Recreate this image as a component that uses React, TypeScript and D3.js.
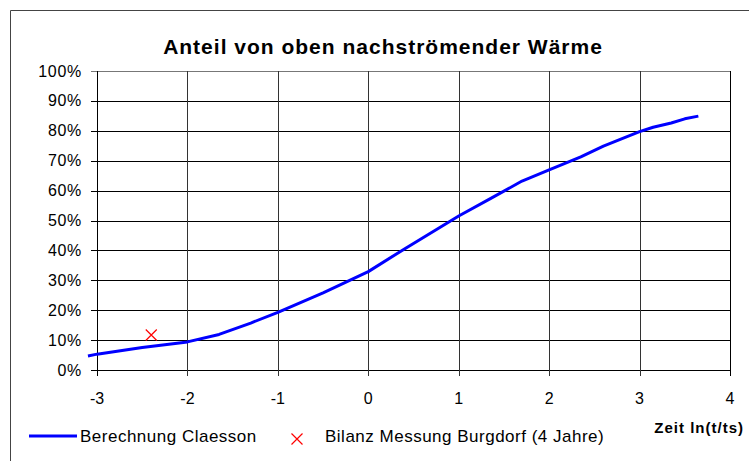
import React, { useEffect, useRef } from 'react'
import * as d3 from 'd3'

const lnTime = [-3.1, -3, -2.5, -2, -1.65, -1.3, -1, -0.5, 0, 0.4, 1, 1.35, 1.7, 2, 2.35, 2.6, 3, 3.15, 3.35, 3.5, 3.65]
const share = [0.047, 0.053, 0.075, 0.094, 0.119, 0.157, 0.193, 0.258, 0.329, 0.405, 0.515, 0.573, 0.632, 0.669, 0.713, 0.749, 0.797, 0.812, 0.826, 0.840, 0.849]

const measX = [-2.4]
const measY = [0.117]

const xTicks = [-3, -2, -1, 0, 1, 2, 3, 4]
const yTicks = [0, 0.1, 0.2, 0.3, 0.4, 0.5, 0.6, 0.7, 0.8, 0.9, 1]

const W = 749
const H = 461
const font = 'Arial, "Liberation Sans", sans-serif'

function App() {
  const ref = useRef<SVGSVGElement>(null)

  useEffect(() => {
    drawChart(ref.current)
  }, [])

  return (
    <svg ref={ref} width={W} height={H} style={{ position: 'absolute', left: 0, top: 0, background: '#fff' }} />
  )
}

function drawChart(node: SVGSVGElement | null) {
  if (!node) return
  const svg = d3.select(node)
  svg.selectAll('*').remove()

  const plot = { left: 97, top: 71, right: 730, bottom: 370 }

  // outer chart frame (only top and left visible)
  svg.append('path')
    .attr('d', `M10.5,${H} V10.5 H${W}`)
    .attr('fill', 'none')
    .attr('stroke', '#444')

  svg.append('text')
    .attr('x', 383)
    .attr('y', 54)
    .attr('text-anchor', 'middle')
    .attr('font-family', font)
    .attr('font-weight', 'bold')
    .attr('font-size', 21)
    .attr('letter-spacing', 1)
    .text('Anteil von oben nachströmender Wärme')

  const x = d3.scaleLinear().domain([-3, 4]).range([plot.left, plot.right])
  const y = d3.scaleLinear().domain([0, 1]).range([plot.bottom, plot.top])

  const g = svg.append('g')

  // horizontal grid
  g.selectAll('line.hgrid')
    .data(yTicks)
    .enter()
    .append('line')
    .attr('x1', plot.left - 6)
    .attr('x2', plot.right)
    .attr('y1', d => Math.round(y(d)) + 0.5)
    .attr('y2', d => Math.round(y(d)) + 0.5)
    .attr('stroke', d => (d === 1 ? '#777' : '#000'))

  // vertical grid
  g.selectAll('line.vgrid')
    .data(xTicks)
    .enter()
    .append('line')
    .attr('x1', d => Math.round(x(d)) + 0.5)
    .attr('x2', d => Math.round(x(d)) + 0.5)
    .attr('y1', plot.top)
    .attr('y2', plot.bottom + 6)
    .attr('stroke', d => (d === -3 || d === 4 ? '#000' : '#333'))

  // y labels
  g.selectAll('text.ylab')
    .data(yTicks)
    .enter()
    .append('text')
    .attr('x', 82)
    .attr('y', d => y(d) + 5.5)
    .attr('text-anchor', 'end')
    .attr('font-family', font)
    .attr('font-size', 16)
    .attr('letter-spacing', 0.7)
    .text(d => d3.format('.0%')(d))

  // x labels
  g.selectAll('text.xlab')
    .data(xTicks)
    .enter()
    .append('text')
    .attr('x', d => x(d))
    .attr('y', 404)
    .attr('text-anchor', 'middle')
    .attr('font-family', font)
    .attr('font-size', 16)
    .text(d => String(d))

  svg.append('text')
    .attr('x', 744)
    .attr('y', 433)
    .attr('text-anchor', 'end')
    .attr('font-family', font)
    .attr('font-weight', 'bold')
    .attr('font-size', 15)
    .attr('letter-spacing', 1)
    .text('Zeit ln(t/ts)')

  // curve
  const pts = lnTime.map((t, i) => [t, share[i]] as [number, number])
  const line = d3.line<[number, number]>()
    .x(d => x(d[0]))
    .y(d => y(d[1]))

  svg.append('path')
    .datum(pts)
    .attr('d', line)
    .attr('fill', 'none')
    .attr('stroke', '#0000ff')
    .attr('stroke-width', 3)
    .attr('stroke-linejoin', 'round')

  // measurement marker
  const cross = (cx: number, cy: number, r: number) =>
    `M${cx - r},${cy - r}L${cx + r},${cy + r}M${cx - r},${cy + r}L${cx + r},${cy - r}`

  svg.selectAll('path.meas')
    .data(measX.map((t, i) => [t, measY[i]]))
    .enter()
    .append('path')
    .attr('d', d => cross(x(d[0]), y(d[1]), 5.5))
    .attr('stroke', '#ff0000')
    .attr('stroke-width', 1.2)
    .attr('fill', 'none')

  // legend
  const ly = 436
  svg.append('line')
    .attr('x1', 29)
    .attr('x2', 77)
    .attr('y1', ly)
    .attr('y2', ly)
    .attr('stroke', '#0000ff')
    .attr('stroke-width', 3)
  svg.append('text')
    .attr('x', 80)
    .attr('y', ly + 6)
    .attr('font-family', font)
    .attr('font-size', 17)
    .attr('letter-spacing', 0.5)
    .text('Berechnung Claesson')
  svg.append('path')
    .attr('d', cross(297, ly + 3, 5.5))
    .attr('stroke', '#ff0000')
    .attr('stroke-width', 1.2)
    .attr('fill', 'none')
  svg.append('text')
    .attr('x', 325)
    .attr('y', ly + 6)
    .attr('font-family', font)
    .attr('font-size', 17)
    .attr('letter-spacing', 0.5)
    .text('Bilanz Messung Burgdorf (4 Jahre)')
}

export default App
